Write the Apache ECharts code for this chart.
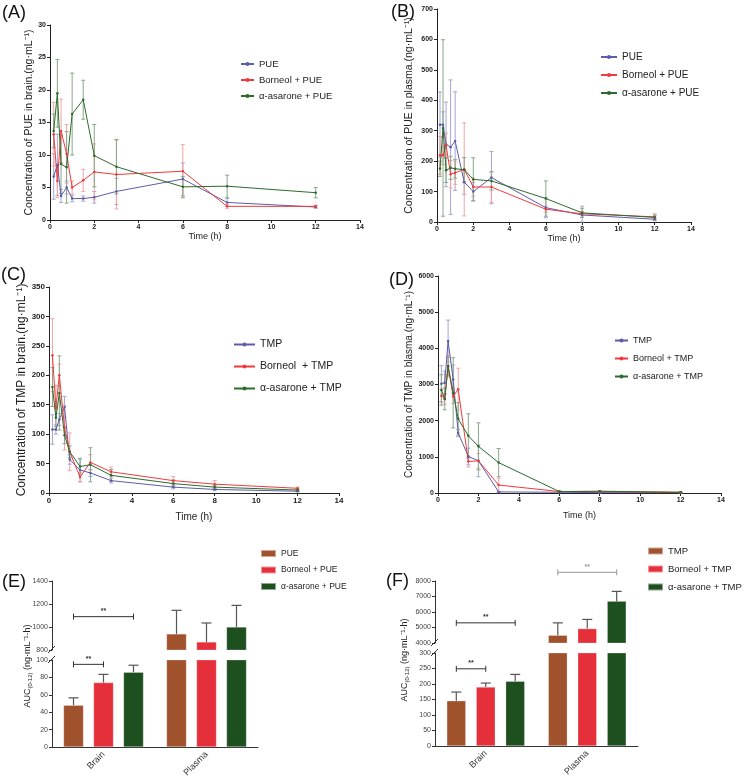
<!DOCTYPE html>
<html>
<head>
<meta charset="utf-8">
<script src="https://cdn.jsdelivr.net/npm/echarts@6/dist/echarts.min.js"></script>
<style>
  body { margin: 0; background: #fff; }
  .panel { position: absolute; left: 0; top: 0; width: 745px; height: 782px; }
</style>
</head>
<body>
<div class="panel" id="pa"></div>
<div class="panel" id="pb"></div>
<div class="panel" id="pc"></div>
<div class="panel" id="pd"></div>
<div class="panel" id="pe"></div>
<div class="panel" id="pf"></div>
<script>
// 采样时间 (h)
var TIME = [0.167, 0.333, 0.5, 0.75, 1, 1.5, 2, 3, 6, 8, 12];

// (A) PUE in brain
var aPUE = [6.7, 8.5, 3.7, 5.0, 3.3, 3.3, 3.5, 4.4, 6.3, 2.7, 2.0];
var aPUEsd = [3.5, 4.7, 1.0, 1.0, 0.5, 0.4, 0.9, 2.0, 2.5, 0.6, 0.2];
var aBor = [13.2, 6.0, 13.7, 10.2, 5.0, 6.1, 7.4, 7.0, 7.5, 2.1, 2.1];
var aBorSd = [4.9, 2.5, 4.9, 4.5, 1.0, 1.7, 4.3, 5.3, 4.1, 0.3, 0.2];
var aAsa = [13.7, 19.5, 8.6, 8.1, 16.3, 18.5, 9.9, 8.2, 5.1, 5.2, 4.2];
var aAsaSd = [2.6, 5.2, 4.5, 5.5, 6.3, 3.0, 4.8, 4.2, 1.6, 1.7, 0.8];

// (B) PUE in plasma
var bPUE = [320, 320, 255, 246, 266, 131, 100, 146, 47, 23, 9];
var bPUEsd = [107, 42, 139, 221, 162, 40, 30, 86, 33, 29, 5];
var bBor = [219, 219, 252, 157, 162, 173, 115, 115, 42, 27, 17];
var bBorSd = [62, 30, 40, 45, 38, 153, 30, 50, 10, 7, 10];
var bAsa = [175, 309, 170, 178, 175, 172, 140, 135, 77, 30, 15];
var bAsaSd = [25, 290, 40, 38, 31, 40, 71, 30, 58, 15, 8];

// (C) TMP in brain
var cTMP = [108, 108, 125, 146, 57, 39, 34, 21, 10, 6, 3];
var cTMPsd = [25, 8, 10, 18, 8, 20, 6, 4, 3, 2, 1];
var cBor = [234, 145, 200, 111, 70, 27, 52, 36, 21, 15, 8];
var cBorSd = [62, 38, 19, 38, 32, 8, 13, 8, 7, 6, 2];
var cAsa = [180, 128, 170, 98, 70, 45, 48, 30, 16, 10, 5];
var cAsaSd = [33, 15, 63, 14, 10, 13, 29, 10, 6, 3, 2];

// (D) TMP in plasma
var dTMP = [3020, 3050, 4200, 3140, 1660, 1010, 890, 30, 20, 10, 10];
var dTMPsd = [500, 320, 580, 400, 100, 230, 440, 20, 10, 5, 5];
var dBor = [2690, 2600, 3510, 2670, 2870, 870, 890, 220, 40, 40, 20];
var dBorSd = [180, 150, 300, 200, 580, 150, 200, 190, 20, 10, 10];
var dAsa = [2850, 2600, 3510, 2770, 2050, 1580, 1290, 840, 40, 50, 20];
var dAsaSd = [420, 300, 250, 970, 450, 610, 650, 390, 20, 10, 10];

// (E)(F) AUC(0-12)：Brain, Plasma
var BAR_CATS = ['Brain', 'Plasma'];
var eAUC = [[48, 940], [74, 870], [86, 1000]];
var eAUCsd = [[8.5, 205], [9.5, 165], [8, 188]];
var fAUC = [[146, 4500], [190, 4930], [209, 6700]];
var fAUCsd = [[28, 800], [13, 590], [22, 630]];

var FONT = 'Liberation Sans';
var LINE_COLORS = ['#5c5ca8', '#f0393e', '#2d6a2d'];
var ERR_COLORS = ['#a6a6d0', '#f5a3a3', '#88a888'];
var BAR_COLORS = ['#a0522d', '#e5303c', '#1e4f1e'];

function plain(v) { return String(v); }

function panelLabel(text, x, y) {
  return { type: 'text', x: x, y: y, style: { text: text, font: '18px ' + FONT, fill: '#111' } };
}

function legendCfg(l, icon) {
  var cfg = {
    orient: 'vertical',
    left: l.left,
    top: l.top,
    padding: 0,
    itemGap: l.gap,
    itemWidth: l.width,
    itemHeight: l.height,
    textStyle: { fontSize: l.fontSize, color: '#222', fontFamily: FONT }
  };
  if (icon) cfg.icon = icon;
  return cfg;
}

// 折线图的误差棒（±SD）
function lineErr(means, sds, color) {
  return {
    type: 'custom',
    silent: true,
    clip: false,
    z: 1,
    data: TIME.map(function (t, i) { return [t, means[i], sds[i]]; }),
    renderItem: function (params, api) {
      var t = api.value(0), m = api.value(1), s = api.value(2);
      var p1 = api.coord([t, m + s]);
      var p2 = api.coord([t, Math.max(m - s, 0)]);
      var st = { stroke: color, lineWidth: 1 };
      return {
        type: 'group',
        children: [
          { type: 'line', shape: { x1: p1[0], y1: p1[1], x2: p2[0], y2: p2[1] }, style: st },
          { type: 'line', shape: { x1: p1[0] - 2, y1: p1[1], x2: p1[0] + 2, y2: p1[1] }, style: st },
          { type: 'line', shape: { x1: p2[0] - 2, y1: p2[1], x2: p2[0] + 2, y2: p2[1] }, style: st }
        ]
      };
    }
  };
}

function lineOption(c) {
  var series = [];
  c.names.forEach(function (name, k) {
    series.push(lineErr(c.means[k], c.sds[k], ERR_COLORS[k]));
  });
  c.names.forEach(function (name, k) {
    series.push({
      name: name,
      type: 'line',
      z: 3,
      symbol: 'circle',
      symbolSize: 2.5,
      color: LINE_COLORS[k],
      lineStyle: { width: 1 },
      data: TIME.map(function (t, i) { return [t, c.means[k][i]]; })
    });
  });
  var lg = legendCfg(c.legend);
  lg.data = c.names;
  return {
    animation: false,
    textStyle: { fontFamily: FONT },
    grid: c.grid,
    legend: lg,
    xAxis: {
      type: 'value',
      min: 0,
      max: 14,
      interval: 2,
      name: 'Time (h)',
      nameLocation: 'middle',
      nameGap: c.xNameGap,
      nameTextStyle: { fontSize: c.xNameSize, color: '#222', fontFamily: FONT },
      axisLine: { lineStyle: { color: '#222', width: 1 } },
      axisTick: { length: 3, lineStyle: { color: '#222' } },
      axisLabel: { fontSize: c.tickSize, fontWeight: 'bold', color: '#222', margin: 4, formatter: plain },
      splitLine: { show: false }
    },
    yAxis: {
      type: 'value',
      min: 0,
      max: c.yMax,
      interval: c.yInt,
      name: c.yName,
      nameLocation: 'middle',
      nameGap: c.yNameGap,
      nameTextStyle: { fontSize: c.yNameSize, color: '#222', fontFamily: FONT },
      axisLine: { show: true, lineStyle: { color: '#222', width: 1 } },
      axisTick: { show: true, length: 3, lineStyle: { color: '#222' } },
      axisLabel: { fontSize: c.tickSize, fontWeight: 'bold', color: '#222', margin: 4, formatter: plain },
      splitLine: { show: false }
    },
    graphic: [panelLabel(c.label[0], c.label[1], c.label[2])],
    series: series
  };
}

// 柱状图（断轴：上下两个 grid）
function barOption(c) {
  var step = c.barWidth * (1 + c.barGapRatio);
  var series = [];
  function axisBase() {
    return {
      axisLine: { show: true, lineStyle: { color: '#333', width: 1 } },
      axisTick: { show: true, length: 3, lineStyle: { color: '#333' } },
      axisLabel: { fontSize: 7, color: '#444', margin: 4, formatter: plain },
      splitLine: { show: false }
    };
  }
  c.names.forEach(function (name, k) {
    [0, 1].forEach(function (g) {
      series.push({
        name: name,
        type: 'bar',
        xAxisIndex: g,
        yAxisIndex: g,
        clip: true,
        barWidth: c.barWidth,
        barGap: (c.barGapRatio * 100) + '%',
        color: BAR_COLORS[k],
        itemStyle: { borderColor: 'rgba(255,255,255,0.5)', borderWidth: 0.5 },
        data: c.values[k]
      });
    });
  });
  // +SD 误差棒
  c.names.forEach(function (name, k) {
    var top = [], bot = [];
    c.values[k].forEach(function (v, i) {
      var d = [i, v, c.sds[k][i]];
      if (v + c.sds[k][i] <= c.botMax) bot.push(d); else top.push(d);
    });
    [[top, 0], [bot, 1]].forEach(function (pair) {
      series.push({
        type: 'custom',
        silent: true,
        clip: false,
        xAxisIndex: pair[1],
        yAxisIndex: pair[1],
        z: 3,
        data: pair[0],
        renderItem: function (params, api) {
          var ci = api.value(0), m = api.value(1), s = api.value(2);
          var off = (k - 1) * step;
          var p0 = api.coord([ci, m]);
          var p1 = api.coord([ci, m + s]);
          var x = p0[0] + off;
          var st = { stroke: '#555', lineWidth: 1.2 };
          return {
            type: 'group',
            children: [
              { type: 'line', shape: { x1: x, y1: p0[1], x2: x, y2: p1[1] }, style: st },
              { type: 'line', shape: { x1: x - 5, y1: p1[1], x2: x + 5, y2: p1[1] }, style: st }
            ]
          };
        }
      });
    });
  });
  // 显著性标记
  c.brackets.forEach(function (b) {
    series.push({
      type: 'custom',
      silent: true,
      clip: false,
      xAxisIndex: b.grid,
      yAxisIndex: b.grid,
      z: 4,
      data: [[b.cat, b.value]],
      renderItem: function (params, api) {
        var p = api.coord([api.value(0), api.value(1)]);
        var x1 = p[0] + (b.from - 1) * step;
        var x2 = p[0] + (b.to - 1) * step;
        var y = p[1];
        var st = { stroke: b.color, lineWidth: 1 };
        return {
          type: 'group',
          children: [
            { type: 'line', shape: { x1: x1, y1: y, x2: x2, y2: y }, style: st },
            { type: 'line', shape: { x1: x1, y1: y - 3, x2: x1, y2: y + 3 }, style: st },
            { type: 'line', shape: { x1: x2, y1: y - 3, x2: x2, y2: y + 3 }, style: st },
            { type: 'text', x: (x1 + x2) / 2, y: y - 2, style: { text: '**', font: 'bold 7px ' + FONT, fill: b.color, align: 'center', verticalAlign: 'bottom' } }
          ]
        };
      }
    });
  });
  var ax = c.botGrid.left;
  var brk = { stroke: '#333', lineWidth: 1 };
  var lg = legendCfg(c.legend, 'rect');
  lg.data = c.names;
  return {
    animation: false,
    textStyle: { fontFamily: FONT },
    grid: [c.topGrid, c.botGrid],
    legend: lg,
    xAxis: [
      { gridIndex: 0, type: 'category', data: BAR_CATS, show: false },
      {
        gridIndex: 1, type: 'category', data: BAR_CATS,
        axisLine: { lineStyle: { color: '#333', width: 1 } },
        axisTick: { alignWithLabel: true, length: 3, lineStyle: { color: '#333' } },
        axisLabel: { rotate: 45, fontSize: 9, color: '#333', margin: 6 }
      }
    ],
    yAxis: [
      Object.assign({ gridIndex: 0, type: 'value', min: c.topMin, max: c.topMax, interval: c.topInt }, axisBase()),
      Object.assign({ gridIndex: 1, type: 'value', min: 0, max: c.botMax, interval: c.botInt }, axisBase())
    ],
    graphic: [
      panelLabel(c.label[0], c.label[1], c.label[2]),
      {
        type: 'text', x: c.yName[0], y: c.yName[1], rotation: Math.PI / 2,
        style: {
          text: '{a|AUC}{s|(0-12)}{a| (ng·mL⁻¹·h)}',
          align: 'center', verticalAlign: 'middle',
          rich: {
            a: { fontSize: 9, fontFamily: FONT, fill: '#222' },
            s: { fontSize: 6, fontFamily: FONT, fill: '#222', verticalAlign: 'bottom', padding: [4, 0, 0, 0] }
          }
        }
      },
      { type: 'line', shape: { x1: ax - 4, y1: c.breakY[0] + 3, x2: ax + 3, y2: c.breakY[0] - 4 }, style: brk },
      { type: 'line', shape: { x1: ax - 4, y1: c.breakY[1] + 3, x2: ax + 3, y2: c.breakY[1] - 4 }, style: brk }
    ],
    series: series
  };
}

// (A)
(function () {
  var myChart = echarts.init(document.getElementById('pa'));
  myChart.setOption(lineOption({
    grid: { left: 50, top: 25, width: 310, height: 195 },
    yMax: 30, yInt: 5, tickSize: 7,
    yName: 'Concentration of PUE in brain.(ng·mL⁻¹)', yNameGap: 15, yNameSize: 10.5,
    xNameGap: 12, xNameSize: 9,
    names: ['PUE', 'Borneol + PUE', 'α-asarone + PUE'],
    means: [aPUE, aBor, aAsa], sds: [aPUEsd, aBorSd, aAsaSd],
    legend: { left: 240, top: 59, gap: 6, fontSize: 9.5, width: 13, height: 5 },
    label: ['(A)', 2, 4]
  }));
})();

// (B)
(function () {
  var myChart = echarts.init(document.getElementById('pb'));
  myChart.setOption(lineOption({
    grid: { left: 437, top: 9, width: 254, height: 213 },
    yMax: 700, yInt: 100, tickSize: 7,
    yName: 'Concentration of PUE in plasma.(ng·mL⁻¹)', yNameGap: 22, yNameSize: 10.5,
    xNameGap: 12, xNameSize: 9,
    names: ['PUE', 'Borneol + PUE', 'α-asarone + PUE'],
    means: [bPUE, bBor, bAsa], sds: [bPUEsd, bBorSd, bAsaSd],
    legend: { left: 600, top: 52, gap: 8, fontSize: 10, width: 16, height: 5 },
    label: ['(B)', 391, 3]
  }));
})();

// (C)
(function () {
  var myChart = echarts.init(document.getElementById('pc'));
  myChart.setOption(lineOption({
    grid: { left: 49, top: 287, width: 290, height: 206 },
    yMax: 350, yInt: 50, tickSize: 8,
    yName: 'Concentration of TMP in brain.(ng·mL⁻¹)', yNameGap: 16, yNameSize: 12,
    xNameGap: 19, xNameSize: 10,
    names: ['TMP', 'Borneol  + TMP', 'α-asarone + TMP'],
    means: [cTMP, cBor, cAsa], sds: [cTMPsd, cBorSd, cAsaSd],
    legend: { left: 233, top: 339, gap: 11, fontSize: 10.5, width: 21, height: 5 },
    label: ['(C)', 1, 266]
  }));
})();

// (D)
(function () {
  var myChart = echarts.init(document.getElementById('pd'));
  myChart.setOption(lineOption({
    grid: { left: 438, top: 276, width: 283, height: 217 },
    yMax: 6000, yInt: 1000, tickSize: 7,
    yName: 'Concentration of TMP in blasma.(ng·mL⁻¹)', yNameGap: 24, yNameSize: 10,
    xNameGap: 18, xNameSize: 9,
    names: ['TMP', 'Borneol + TMP', 'α-asarone + TMP'],
    means: [dTMP, dBor, dAsa], sds: [dTMPsd, dBorSd, dAsaSd],
    legend: { left: 614, top: 336, gap: 9, fontSize: 9, width: 13, height: 5 },
    label: ['(D)', 389, 271]
  }));
})();

// (E)
(function () {
  var myChart = echarts.init(document.getElementById('pe'));
  myChart.setOption(barOption({
    topGrid: { left: 52, top: 581, width: 206, height: 69 },
    botGrid: { left: 52, top: 660, width: 206, height: 87 },
    topMin: 800, topMax: 1400, topInt: 200, botMax: 100, botInt: 20,
    barWidth: 20, barGapRatio: 0.5,
    names: ['PUE', 'Borneol + PUE', 'α-asarone + PUE'],
    values: eAUC, sds: eAUCsd,
    brackets: [
      { grid: 1, cat: 0, value: 95, from: 0, to: 1, color: '#333' },
      { grid: 0, cat: 0, value: 1090, from: 0, to: 2, color: '#333' }
    ],
    legend: { left: 260, top: 549, gap: 7.5, fontSize: 8.5, width: 15, height: 7 },
    yName: [28, 666],
    breakY: [650, 660],
    label: ['(E)', 2, 573]
  }));
})();

// (F)
(function () {
  var myChart = echarts.init(document.getElementById('pf'));
  myChart.setOption(barOption({
    topGrid: { left: 435, top: 581, width: 203, height: 62 },
    botGrid: { left: 435, top: 653, width: 203, height: 93 },
    topMin: 4000, topMax: 8000, topInt: 1000, botMax: 300, botInt: 50,
    barWidth: 19, barGapRatio: 0.55,
    names: ['TMP', 'Borneol + TMP', 'α-asarone + TMP'],
    values: fAUC, sds: fAUCsd,
    brackets: [
      { grid: 1, cat: 0, value: 249, from: 0, to: 1, color: '#333' },
      { grid: 0, cat: 0, value: 5300, from: 0, to: 2, color: '#333' },
      { grid: 0, cat: 1, value: 8560, from: 0, to: 2, color: '#999' }
    ],
    legend: { left: 647, top: 546, gap: 8, fontSize: 9.5, width: 15, height: 7 },
    yName: [405, 660],
    breakY: [643, 653],
    label: ['(F)', 386, 572]
  }));
})();
</script>
</body>
</html>
